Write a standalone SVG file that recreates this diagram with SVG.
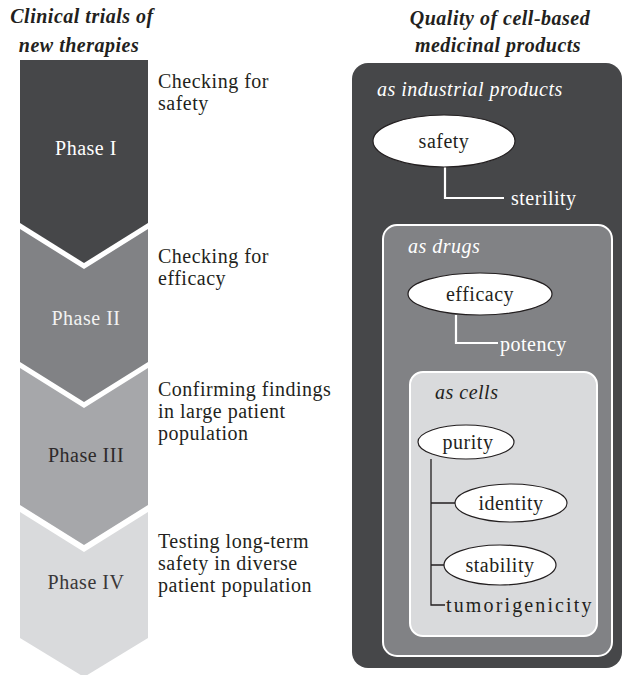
<svg xmlns="http://www.w3.org/2000/svg" width="623" height="675" viewBox="0 0 623 675">
<style>
text{font-family:"Liberation Serif","DejaVu Serif",serif;font-size:20px;letter-spacing:0.5px;fill:#231f20}
.title{font-weight:bold;font-style:italic;text-anchor:middle}
.ph{text-anchor:middle}
.it{font-style:italic}
.w{fill:#ffffff}
.mid{text-anchor:middle}
.ell{fill:#ffffff;stroke:#231f20;stroke-width:1.2}
.wl{fill:none;stroke:#ffffff;stroke-width:2.2}
.dl{fill:none;stroke:#231f20;stroke-width:1.3}
</style>
<rect width="623" height="675" fill="#ffffff"/>
<text class="title" x="82" y="23">Clinical trials of</text>
<text class="title" x="79" y="52">new therapies</text>
<text class="title" x="500" y="25">Quality of cell-based</text>
<text class="title" x="498" y="52">medicinal products</text>

<g id="phase1">
<path d="M20,60 H148 V223 L84,263 L20,223 Z" fill="#464749"/>
<text class="ph w" x="86" y="155">Phase I</text>
<text x="158" y="88">Checking for</text>
<text x="158" y="110">safety</text>
</g>
<g id="phase2">
<path d="M20,229 L84,269 L148,229 V362 L84,402 L20,362 Z" fill="#818285"/>
<text class="ph" x="86" y="325" style="fill:#f2f2f2">Phase II</text>
<text x="158" y="263">Checking for</text>
<text x="158" y="285">efficacy</text>
</g>
<g id="phase3">
<path d="M20,368 L84,408 L148,368 V505 L84,545 L20,505 Z" fill="#a6a7aa"/>
<text class="ph" x="86" y="462" style="fill:#2d2a2b">Phase III</text>
<text x="158" y="396">Confirming findings</text>
<text x="158" y="418">in large patient</text>
<text x="158" y="440">population</text>
</g>
<g id="phase4">
<path d="M20,512 L84,552 L148,512 V638 L84,677 L20,638 Z" fill="#d9dadc"/>
<text class="ph" x="86" y="589" style="fill:#3a3738">Phase IV</text>
<text x="158" y="548">Testing long-term</text>
<text x="158" y="570">safety in diverse</text>
<text x="158" y="592">patient population</text>
</g>

<g id="industrial">
<rect x="352" y="63" width="270" height="605" rx="16" fill="#464749"/>
<text class="it w" x="377" y="96">as industrial products</text>
</g>
<g id="drugs">
<rect x="383" y="225" width="229" height="431" rx="14" fill="#818285" stroke="#ffffff" stroke-width="2"/>
<text class="it w" x="408" y="253">as drugs</text>
</g>
<g id="cells">
<rect x="410" y="372" width="187" height="264" rx="13" fill="#d9dadc" stroke="#ffffff" stroke-width="2"/>
<text class="it" x="435" y="399">as cells</text>
</g>

<g id="connectors">
<path class="wl" d="M445,167 V198 H504"/>
<path class="wl" d="M456,315 V343 H498"/>
<path class="dl" d="M431,459 V605 H445 M431,503 H455 M431,565 H444"/>
</g>

<g id="safety">
<ellipse class="ell" cx="444" cy="141" rx="71" ry="26"/>
<text class="mid" x="444" y="148">safety</text>
</g>
<g id="sterility"><text x="511" y="205" class="w">sterility</text></g>
<g id="efficacy">
<ellipse class="ell" cx="480" cy="294" rx="72" ry="21"/>
<text class="mid" x="480" y="301">efficacy</text>
</g>
<g id="potency"><text x="500" y="351" class="w">potency</text></g>
<g id="purity">
<ellipse class="ell" cx="466" cy="442" rx="48" ry="17"/>
<text class="mid" x="468" y="449">purity</text>
</g>
<g id="identity">
<ellipse class="ell" cx="511" cy="503" rx="56" ry="19"/>
<text class="mid" x="511" y="510">identity</text>
</g>
<g id="stability">
<ellipse class="ell" cx="500" cy="565" rx="56" ry="20"/>
<text class="mid" x="500" y="572">stability</text>
</g>
<g id="tumorigenicity"><text x="446" y="612" textLength="146" lengthAdjust="spacing">tumorigenicity</text></g>
</svg>
